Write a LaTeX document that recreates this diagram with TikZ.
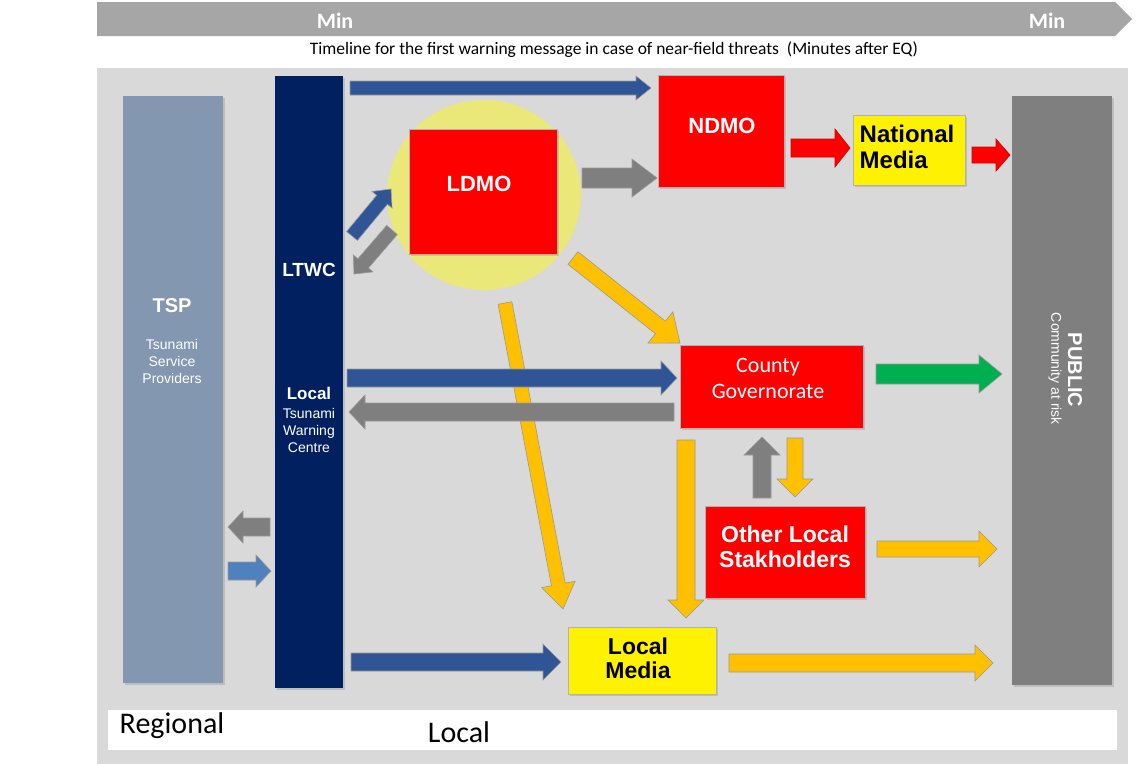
\documentclass[tikz,border=0pt]{standalone}
\usepackage{fontspec}
\setmainfont{Liberation Sans}
\newfontfamily\calib{Carlito}
\usetikzlibrary{calc,shadows,shapes.geometric}
\definecolor{bggray}{HTML}{D9D9D9}
\definecolor{bannergray}{HTML}{A6A6A6}
\definecolor{tspblue}{HTML}{8497B0}
\definecolor{navy}{HTML}{002060}
\definecolor{pubgray}{HTML}{7F7F7F}
\definecolor{halo}{HTML}{EAE879}
\definecolor{arblue}{HTML}{2F5597}
\definecolor{arlblue}{HTML}{4F81BD}
\definecolor{argray}{HTML}{7F7F7F}
\definecolor{aryellow}{HTML}{FFC000}
\definecolor{argreen}{HTML}{00B050}
\newcommand\fs[2]{\fontsize{#1}{#2}\selectfont}
\newcommand\blockarr[6]{%
  \coordinate (bh) at ($(#3)!#6!(#2)$);
  \draw[arrline,#1] ($(#2)!#4!90:(#3)$) -- ($(bh)!#4!90:(#3)$) -- ($(bh)!#5!90:(#3)$) -- (#3)
     -- ($(bh)!#5!-90:(#3)$) -- ($(bh)!#4!-90:(#3)$) -- ($(#2)!#4!-90:(#3)$) -- cycle;}
\tikzset{
  shd/.style={drop shadow={shadow xshift=1.5pt,shadow yshift=-1.5pt,opacity=0.3}},
  box/.style={draw=black!30, line width=0.6pt, inner sep=0pt, align=center, shd},
  redbox/.style={box, fill=red, text=white},
  yelbox/.style={box, fill=yellow, text=black},
  bar/.style={inner sep=0pt, shd},
  wtext/.style={text=white, align=center, inner sep=0pt},
  btext/.style={text=black, align=center, inner sep=0pt},
  arrline/.style={draw=black!40, line width=0.6pt}
}
\begin{document}
\begin{tikzpicture}[x=1pt,y=-1pt]
\useasboundingbox (0,0) rectangle (1140,764);
\fill[white] (0,0) rectangle (1140,764);
% backgrounds
\fill[bggray] (97,68) rectangle (1128,764);
\fill[bannergray] (97,2) -- (1115,2) -- (1132,19) -- (1115,36) -- (97,36) -- cycle;
\node[wtext, font=\calib\bfseries\fs{22}{24}] (min1) at (335,21) {Min};
\node[wtext, font=\calib\bfseries\fs{22}{24}] (min2) at (1047,21) {Min};
\node[inner sep=0pt, font=\calib\fs{17.5}{19}] (timeline) at (614,50) {Timeline for the first warning message in case of near-field threats~~(Minutes after EQ)};
\fill[white] (108,710) rectangle (1117,750);
\node[inner sep=0pt, font=\calib\fs{30}{32}] (regional) at (172,726) {Regional};
\node[inner sep=0pt, font=\calib\fs{30}{32}] (local) at (459,732) {Local};
% bars
\node[bar, fill=tspblue, minimum width=100pt, minimum height=587pt] (tsp) at (173,389.5) {};
\node[bar, fill=navy, minimum width=68pt, minimum height=612pt] (ltwc) at (309,382) {};
\node[bar, fill=pubgray, minimum width=100pt, minimum height=589pt] (public) at (1062,390.5) {};
\node[wtext, font=\bfseries\fs{20}{22}] (tsplab) at (172,306) {TSP};
\node[wtext, font=\fs{14}{17}] (tspsub) at (172,361) {Tsunami\\Service\\Providers};
\node[wtext, font=\bfseries\fs{19}{21}] (ltwclab) at (309,270) {LTWC};
\node[wtext, font=\bfseries\fs{17}{19}] (ltwcloc) at (309,393) {Local};
\node[wtext, font=\fs{14}{17}] (ltwcsub) at (309,430) {Tsunami\\Warning\\Centre};
\node[wtext, rotate=-90, font=\bfseries\fs{20}{22}] (publab) at (1075,370) {PUBLIC};
\node[wtext, rotate=-90, font=\fs{14}{16}] (pubsub) at (1055,369) {Community at risk};
% halo
\node[ellipse, fill=halo, minimum width=194pt, minimum height=190pt, inner sep=0pt] (halo) at (484,195) {};
% boxes
\node[redbox, minimum width=148pt, minimum height=125pt] (ldmo) at (483,191.5) {};
\node[wtext, font=\bfseries\fs{22}{24}] (ldmotxt) at (479,184) {LDMO};
\node[redbox, minimum width=126pt, minimum height=112pt] (ndmo) at (721,131) {};
\node[wtext, font=\bfseries\fs{22}{24}] (ndmotxt) at (722,126) {NDMO};
\node[yelbox, minimum width=112pt, minimum height=70pt] (natmedia) at (909,150) {};
\node[btext, align=left, font=\bfseries\fs{24}{26}] (nattxt) at (907,147) {National\\Media};
\node[redbox, minimum width=183pt, minimum height=83pt] (county) at (771.5,386.5) {};
\node[wtext, font=\calib\fs{22}{26}] (countytxt) at (768,378) {County\\Governorate};
\node[redbox, minimum width=160pt, minimum height=92pt] (other) at (785,552) {};
\node[wtext, font=\bfseries\fs{23}{25}] (othertxt) at (785,547) {Other Local\\Stakholders};
\node[yelbox, minimum width=148pt, minimum height=67pt] (localmedia) at (642,660.5) {};
\node[btext, font=\bfseries\fs{23}{24}] (lmtxt) at (638,658) {Local\\Media};
% arrow end points
\coordinate (a1s) at (350,88);  \coordinate (a1e) at (651,88);
\coordinate (a2s) at (352,236); \coordinate (a2e) at (391,189);
\coordinate (a3s) at (392,230); \coordinate (a3e) at (354,274);
\coordinate (a4s) at (582,178); \coordinate (a4e) at (657,178);
\coordinate (a5s) at (791,148); \coordinate (a5e) at (850,148);
\coordinate (a6s) at (972,155); \coordinate (a6e) at (1010,155);
\coordinate (a7s) at (573,258); \coordinate (a7e) at (680,343);
\coordinate (a8s) at (505,303); \coordinate (a8e) at (563,609);
\coordinate (a9s) at (347,378); \coordinate (a9e) at (677,378);
\coordinate (a10s) at (674,412); \coordinate (a10e) at (349,412);
\coordinate (a11s) at (876,374); \coordinate (a11e) at (1002,374);
\coordinate (a12s) at (762,498); \coordinate (a12e) at (762,437);
\coordinate (a13s) at (795,438); \coordinate (a13e) at (795,497);
\coordinate (a14s) at (686,440); \coordinate (a14e) at (686,618);
\coordinate (a15s) at (877,549); \coordinate (a15e) at (997,549);
\coordinate (a16s) at (351,662); \coordinate (a16e) at (561,662);
\coordinate (a17s) at (729,663); \coordinate (a17e) at (993,663);
\coordinate (a18s) at (270,527); \coordinate (a18e) at (228,527);
\coordinate (a19s) at (228,571); \coordinate (a19e) at (271,571);
% arrows
\blockarr{fill=arblue}{a1s}{a1e}{7pt}{12pt}{15pt}
\blockarr{fill=arblue}{a2s}{a2e}{7pt}{13pt}{14pt}
\blockarr{fill=argray}{a3s}{a3e}{7pt}{13pt}{14pt}
\blockarr{fill=argray}{a4s}{a4e}{10pt}{19pt}{25pt}
\blockarr{fill=red,draw=red!80!black}{a5s}{a5e}{9pt}{19pt}{15pt}
\blockarr{fill=red,draw=red!80!black}{a6s}{a6e}{8pt}{16pt}{14pt}
\blockarr{fill=aryellow}{a7s}{a7e}{8pt}{20pt}{25pt}
\blockarr{fill=aryellow}{a8s}{a8e}{7pt}{17pt}{25pt}
\blockarr{fill=arblue}{a9s}{a9e}{9pt}{17pt}{16pt}
\blockarr{fill=argray}{a10s}{a10e}{9pt}{17pt}{16pt}
\blockarr{fill=argreen}{a11s}{a11e}{10pt}{19pt}{23pt}
\blockarr{fill=argray}{a12s}{a12e}{9pt}{18pt}{18pt}
\blockarr{fill=aryellow}{a13s}{a13e}{8pt}{18pt}{18pt}
\blockarr{fill=aryellow}{a14s}{a14e}{9pt}{18pt}{18pt}
\blockarr{fill=aryellow}{a15s}{a15e}{8pt}{18pt}{18pt}
\blockarr{fill=arblue}{a16s}{a16e}{9pt}{18pt}{18pt}
\blockarr{fill=aryellow}{a17s}{a17e}{9pt}{18pt}{18pt}
\blockarr{fill=argray}{a18s}{a18e}{9pt}{16pt}{15pt}
\blockarr{fill=arlblue}{a19s}{a19e}{9pt}{16pt}{15pt}
\end{tikzpicture}
\end{document}
